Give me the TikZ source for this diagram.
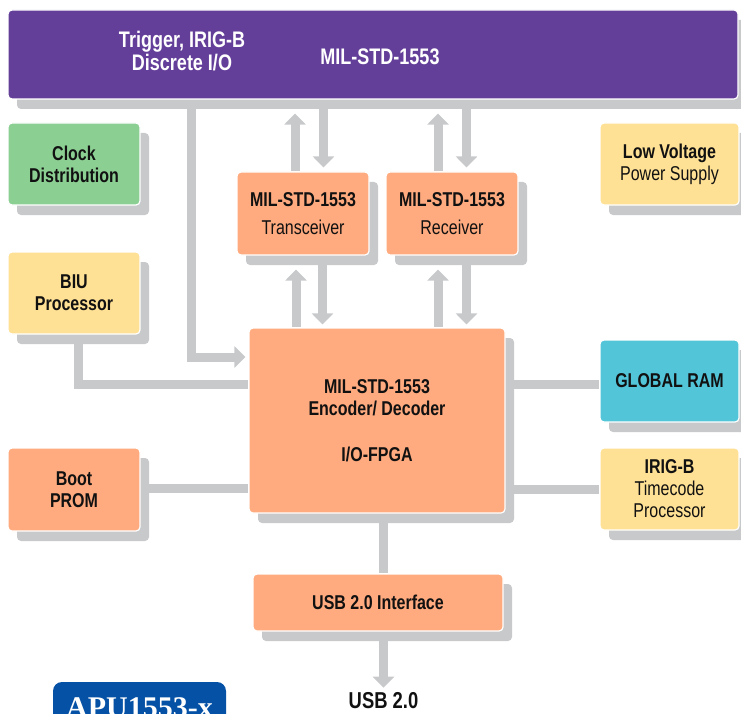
\documentclass[tikz,border=0pt]{standalone}
\usepackage{fontspec}
\newfontfamily\cf[FakeStretch=0.8]{Liberation Sans}
\newfontfamily\badgefont{Liberation Serif}
\usetikzlibrary{shadows,arrows.meta,calc}
\pgfdeclarelayer{bg}
\pgfsetlayers{bg,main}
\definecolor{cpurple}{HTML}{643F9A}
\definecolor{cgreen}{HTML}{8CCF93}
\definecolor{cyellow}{HTML}{FFE195}
\definecolor{corange}{HTML}{FFAB7F}
\definecolor{ccyan}{HTML}{52C5D9}
\definecolor{cgray}{HTML}{C8C9CB}
\definecolor{cblue}{HTML}{0451A5}
\definecolor{ctext}{HTML}{111111}
\tikzset{
  blk/.style={draw=white, line width=1.2pt, rounded corners=4pt, inner sep=0pt,
    align=center, text=ctext, font=\cf\fontsize{20}{22}\selectfont,
    drop shadow={shadow xshift=9pt, shadow yshift=-10pt, fill=cgray, opacity=1}},
  conn/.style={draw=cgray, line width=9pt},
  arr/.style={conn, -{Triangle[width=21pt,length=11pt]}},
  bartext/.style={text=white, align=center, font=\cf\bfseries\fontsize{22.5}{23}\selectfont, inner sep=0pt},
}
\begin{document}
\begin{tikzpicture}[x=1pt,y=-1pt]
\useasboundingbox (0,0) rectangle (741,714);
% top bar
\node[blk, fill=cpurple, minimum width=730pt, minimum height=89pt] (bar) at (373,54.5) {};
\node[bartext] (bartxt1) at (182,51) {Trigger, IRIG-B\\Discrete I/O};
\node[bartext] (bartxt2) at (380,57) {MIL-STD-1553};
% boxes
\node[blk, fill=cgreen, minimum width=132pt, minimum height=82pt] (clock) at (74,164) {\bfseries Clock\\\bfseries Distribution};
\node[blk, fill=cyellow, minimum width=132pt, minimum height=82pt] (biu) at (74,293) {\bfseries BIU\\\bfseries Processor};
\node[blk, fill=corange, minimum width=132pt, minimum height=83pt] (boot) at (74,489.5) {\bfseries Boot\\\bfseries PROM};
\node[blk, fill=cyellow, minimum width=139pt, minimum height=82pt] (lv) at (669.5,164) {\bfseries Low Voltage\\Power Supply};
\node[blk, fill=ccyan, minimum width=139pt, minimum height=82pt] (ram) at (669.5,381) {\bfseries GLOBAL RAM};
\node[blk, fill=cyellow, minimum width=139pt, minimum height=82pt] (irig) at (669.5,489) {\bfseries IRIG-B\\Timecode\\Processor};
\node[blk, fill=corange, minimum width=132pt, minimum height=83pt] (trans) at (303,213.5) {\bfseries MIL-STD-1553\\[6pt]Transceiver};
\node[blk, fill=corange, minimum width=132pt, minimum height=83pt] (recv) at (452,213.5) {\bfseries MIL-STD-1553\\[6pt]Receiver};
\node[blk, fill=corange, minimum width=256pt, minimum height=185pt] (fpga) at (377,420.5) {\bfseries MIL-STD-1553\\\bfseries Encoder/ Decoder\\[24pt]\bfseries I/O-FPGA};
\node[blk, fill=corange, minimum width=250pt, minimum height=57pt] (usb) at (378,602.5) {\bfseries USB 2.0 Interface};
\node[inner sep=0pt, text=ctext, font=\cf\bfseries\fontsize{23}{24}\selectfont] (usblbl) at (383.5,701) {USB 2.0};
% badge
\node[fill=cblue, rounded corners=9pt, minimum width=173pt, minimum height=52pt, inner sep=0pt] (badge) at (139.5,708) {};
\node[anchor=base, text=white, inner sep=0pt, font=\badgefont\bfseries\fontsize{30}{32}\selectfont] (badgelbl) at (139.5,717) {APU1553-x};
% connectors
\begin{pgfonlayer}{bg}
\draw[arr, shorten >=14pt] ([xshift=-8pt]trans.north) -- ([xshift=-8pt]trans.north |- bar.south);
\draw[arr, shorten >=4pt] ([xshift=20.5pt]trans.north |- bar.south) -- ([xshift=20.5pt]trans.north);
\draw[arr, shorten >=14pt] ([xshift=-14pt]recv.north) -- ([xshift=-14pt]recv.north |- bar.south);
\draw[arr, shorten >=4pt] ([xshift=14.5pt]recv.north |- bar.south) -- ([xshift=14.5pt]recv.north);
\draw[arr, shorten >=14pt] ([xshift=-7pt]trans.south |- fpga.north) -- ([xshift=-7pt]trans.south);
\draw[arr, shorten >=3pt] ([xshift=19.5pt]trans.south) -- ([xshift=19.5pt]trans.south |- fpga.north);
\draw[arr, shorten >=14pt] ([xshift=-14pt]recv.south |- fpga.north) -- ([xshift=-14pt]recv.south);
\draw[arr, shorten >=3pt] ([xshift=14.5pt]recv.south) -- ([xshift=14.5pt]recv.south |- fpga.north);
\draw[arr] ([xshift=184pt]bar.south west) |- ([xshift=-3pt,yshift=63.5pt]fpga.west);
\draw[conn] ([xshift=4pt]biu.south) |- ([yshift=36.5pt]fpga.west);
\draw[conn] ([yshift=1pt]boot.east) -- ([yshift=1pt]boot.east -| fpga.west);
\draw[conn] ([yshift=-3pt]ram.west) -- ([yshift=-3pt]ram.west -| fpga.east);
\draw[conn] (irig.west) -- (irig.west -| fpga.east);
\draw[conn] ([xshift=6.5pt]fpga.south) -- ([xshift=6.5pt]fpga.south |- usb.north);
\draw[arr, shorten >=5pt] ([xshift=5.5pt]usb.south) -- (usblbl.north);
\end{pgfonlayer}
\end{tikzpicture}
\end{document}
